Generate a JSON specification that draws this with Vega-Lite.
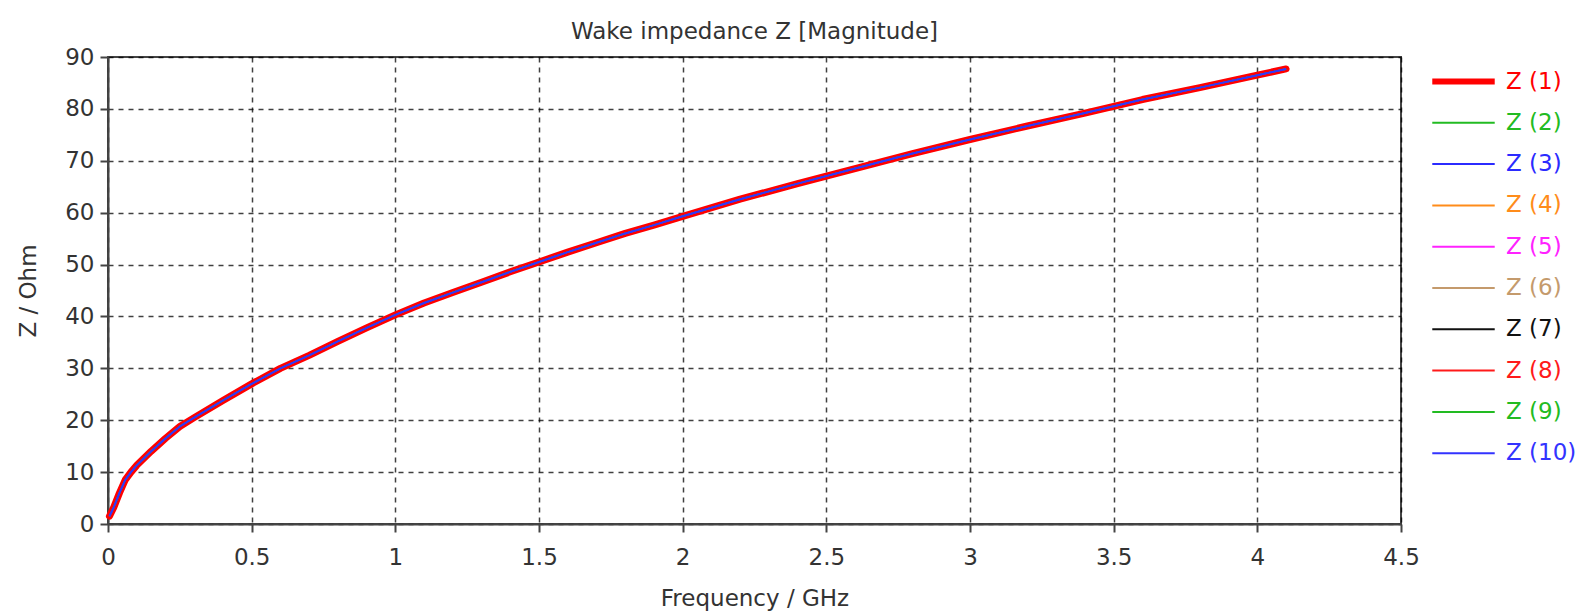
{
  "$schema": "https://vega.github.io/schema/vega-lite/v6.json",
  "autosize": "none",
  "width": 1293,
  "height": 467,
  "padding": {"left": 108, "top": 57, "right": 182, "bottom": 88},
  "background": "white",
  "title": {"text": "Wake impedance Z [Magnitude]", "font": "DejaVu Sans", "fontSize": 23, "fontWeight": "normal", "color": "#333", "offset": 2},
  "config": {
    "view": {"stroke": "#444", "strokeWidth": 2},
    "axis": {
      "labelFont": "DejaVu Sans", "labelFontSize": 23, "labelColor": "#333",
      "titleFont": "DejaVu Sans", "titleFontSize": 23, "titleFontWeight": "normal", "titleColor": "#333",
      "domainColor": "#444", "domainWidth": 2, "tickColor": "#444", "tickWidth": 2, "tickSize": 8,
      "gridColor": "#000", "gridDash": [5, 5], "gridWidth": 1.5, "gridOpacity": 0.75, "labelOverlap": false, "labelFlush": false
    }
  },
  "data": {"values": [
    {"f": 0.005, "z": 1.5}, {"f": 0.02, "z": 3.2}, {"f": 0.04, "z": 6}, {"f": 0.06, "z": 8.5},
    {"f": 0.08, "z": 10}, {"f": 0.1, "z": 11.3}, {"f": 0.15, "z": 14}, {"f": 0.2, "z": 16.5},
    {"f": 0.25, "z": 18.8}, {"f": 0.3, "z": 20.5}, {"f": 0.4, "z": 23.8}, {"f": 0.5, "z": 27},
    {"f": 0.6, "z": 30}, {"f": 0.7, "z": 32.5}, {"f": 0.8, "z": 35.2}, {"f": 0.9, "z": 37.8},
    {"f": 1.0, "z": 40.3}, {"f": 1.1, "z": 42.6}, {"f": 1.2, "z": 44.6}, {"f": 1.3, "z": 46.6},
    {"f": 1.4, "z": 48.6}, {"f": 1.5, "z": 50.5}, {"f": 1.6, "z": 52.4}, {"f": 1.7, "z": 54.2},
    {"f": 1.8, "z": 56}, {"f": 1.9, "z": 57.6}, {"f": 2.0, "z": 59.3}, {"f": 2.2, "z": 62.6},
    {"f": 2.4, "z": 65.6}, {"f": 2.6, "z": 68.5}, {"f": 2.8, "z": 71.4}, {"f": 3.0, "z": 74.1},
    {"f": 3.2, "z": 76.7}, {"f": 3.4, "z": 79.2}, {"f": 3.6, "z": 81.8}, {"f": 3.8, "z": 84.1},
    {"f": 4.0, "z": 86.5}, {"f": 4.1, "z": 87.7}
  ]},
  "encoding": {
    "x": {"field": "f", "type": "quantitative", "scale": {"domain": [0, 4.5], "nice": false, "zero": false},
          "axis": {"title": "Frequency / GHz", "format": "~g", "values": [0, 0.5, 1, 1.5, 2, 2.5, 3, 3.5, 4, 4.5], "labelPadding": 14, "titlePadding": 18}},
    "y": {"field": "z", "type": "quantitative", "scale": {"domain": [0, 90], "nice": false},
          "axis": {"title": "Z / Ohm", "values": [0, 10, 20, 30, 40, 50, 60, 70, 80, 90], "labelPadding": 6, "titlePadding": 24}}
  },
  "layer": [
    {"mark": {"type": "line", "strokeWidth": 7, "strokeCap": "round", "strokeJoin": "round"},
     "encoding": {"color": {"datum": "Z (1)", "type": "nominal",
       "scale": {"domain": ["Z (1)", "Z (2)", "Z (3)", "Z (4)", "Z (5)", "Z (6)", "Z (7)", "Z (8)", "Z (9)", "Z (10)"],
                 "range": ["#ff0000", "#22bb22", "#2b2bff", "#ff8c1a", "#ff22ff", "#c49a6c", "#111111", "#ff1a1a", "#22bb22", "#3333ff"]},
       "legend": {"title": null, "orient": "none", "legendX": 1344, "legendY": 13, "padding": 0,
         "symbolType": "stroke", "symbolSize": 3900, "symbolStrokeWidth": 2,
         "labelFont": "DejaVu Sans", "labelFontSize": 23, "labelOffset": 31, "rowPadding": 17.3,
         "encode": {
           "labels": {"update": {"fill": {"scale": "color", "field": "value"}}},
           "symbols": {"update": {"strokeWidth": {"signal": "datum.value === 'Z (1)' ? 6 : 2"}}}
         }}}}},
    {"mark": {"type": "line", "strokeWidth": 1.5}, "encoding": {"color": {"datum": "Z (2)", "type": "nominal"}}},
    {"mark": {"type": "line", "strokeWidth": 1.5}, "encoding": {"color": {"datum": "Z (3)", "type": "nominal"}}},
    {"mark": {"type": "line", "strokeWidth": 1.5}, "encoding": {"color": {"datum": "Z (4)", "type": "nominal"}}},
    {"mark": {"type": "line", "strokeWidth": 1.5}, "encoding": {"color": {"datum": "Z (5)", "type": "nominal"}}},
    {"mark": {"type": "line", "strokeWidth": 1.5}, "encoding": {"color": {"datum": "Z (6)", "type": "nominal"}}},
    {"mark": {"type": "line", "strokeWidth": 1.5}, "encoding": {"color": {"datum": "Z (7)", "type": "nominal"}}},
    {"mark": {"type": "line", "strokeWidth": 1.5}, "encoding": {"color": {"datum": "Z (8)", "type": "nominal"}}},
    {"mark": {"type": "line", "strokeWidth": 1.5}, "encoding": {"color": {"datum": "Z (9)", "type": "nominal"}}},
    {"mark": {"type": "line", "strokeWidth": 2}, "encoding": {"color": {"datum": "Z (10)", "type": "nominal"}}}
  ]
}
